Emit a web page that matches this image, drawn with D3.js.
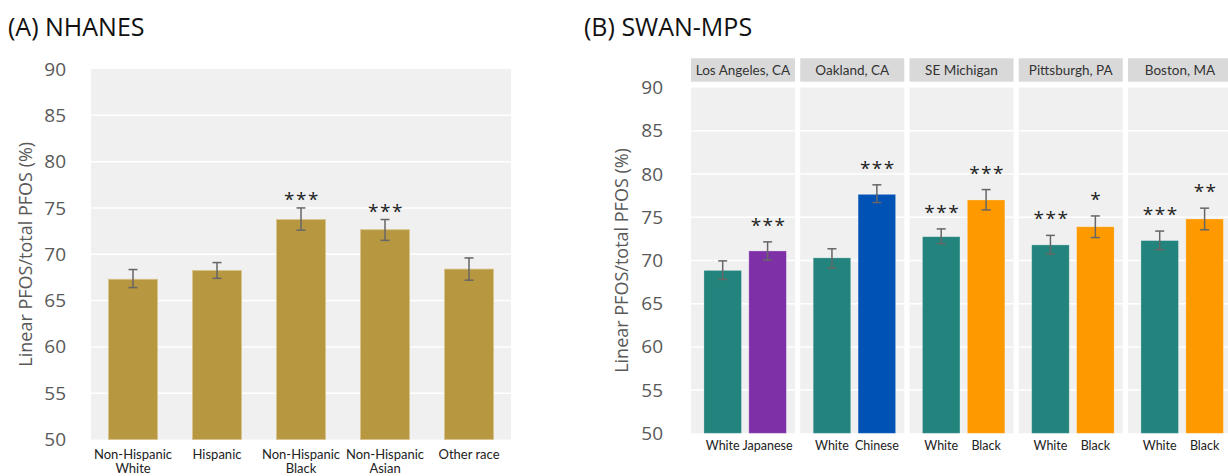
<!DOCTYPE html>
<html>
<head>
<meta charset="utf-8">
<script src="https://cdn.jsdelivr.net/npm/d3@7"></script>
<style>
  body { margin: 0; background: #fff; }
  svg { display: block; font-family: "Open Sans", sans-serif; }
</style>
</head>
<body>
<div class="chart"></div>
<script>
// ---- data ----
const nhanesGroups = [["Non-Hispanic", "White"], ["Hispanic"], ["Non-Hispanic", "Black"], ["Non-Hispanic", "Asian"], ["Other race"]];
const nhanesMeans = [67.3, 68.25, 73.75, 72.65, 68.4];
const nhanesLo = [66.4, 67.4, 72.6, 71.5, 67.2];
const nhanesHi = [68.35, 69.1, 75.0, 73.75, 69.6];
const nhanesSig = ["", "", "***", "***", ""];

const sites = ["Los Angeles, CA", "Oakland, CA", "SE Michigan", "Pittsburgh, PA", "Boston, MA"];
const compareGroups = ["Japanese", "Chinese", "Black", "Black", "Black"];
const whiteMeans = [68.85, 70.3, 72.75, 71.8, 72.3];
const whiteLo = [67.8, 69.15, 71.95, 70.75, 71.25];
const whiteHi = [69.95, 71.35, 73.65, 72.9, 73.4];
const whiteSig = ["", "", "***", "***", "***"];
const otherMeans = [71.1, 77.65, 77.0, 73.9, 74.8];
const otherLo = [70.05, 76.7, 75.85, 72.65, 73.55];
const otherHi = [72.15, 78.75, 78.2, 75.15, 76.05];
const otherSig = ["***", "***", "***", "*", "**"];

const yTicks = [50, 55, 60, 65, 70, 75, 80, 85, 90];
const yTitle = "Linear PFOS/total PFOS (%)";

const groupColor = {White: "#23837d", Japanese: "#7e31a7", Chinese: "#0052b4", Black: "#fe9a00"};

const width = 1228, height = 476;
const svg = d3.select(".chart").append("svg")
    .attr("width", width)
    .attr("height", height);

const textGray = "#595959";

// ---- panel A ----
const yA = d3.scaleLinear().domain([50, 90]).range([439.5, 69]);
const xA = d3.scaleBand()
    .domain(d3.range(nhanesGroups.length))
    .range([91, 511])
    .paddingInner(0.417)
    .paddingOuter(0.2085);

svg.append("text")
    .attr("x", 8).attr("y", 36)
    .attr("font-size", 25).attr("fill", "#111")
    .text("(A) NHANES");

const gA = svg.append("g");
gA.append("rect")
    .attr("x", 91).attr("y", yA(90))
    .attr("width", 420).attr("height", yA(50) - yA(90))
    .attr("fill", "#f0f0f0");

gA.selectAll(".grid").data(yTicks.slice(1, -1)).enter()
    .append("line")
    .attr("x1", 91).attr("x2", 511)
    .attr("y1", d => yA(d)).attr("y2", d => yA(d))
    .attr("stroke", "#fff").attr("stroke-width", 1.5);

const yAxisA = d3.axisLeft(yA).tickValues(yTicks).tickSize(0).tickPadding(0);
gA.append("g")
    .attr("transform", "translate(66,0)")
    .call(yAxisA)
    .call(g => g.select(".domain").remove())
    .selectAll("text")
    .attr("font-size", 19).attr("fill", textGray)
    .attr("font-family", "Open Sans");

svg.append("text")
    .attr("transform", `translate(32,${(yA(50) + yA(90)) / 2}) rotate(-90)`)
    .attr("text-anchor", "middle")
    .attr("font-size", 18).attr("fill", textGray)
    .text(yTitle);

gA.selectAll(".barA").data(nhanesMeans).enter()
    .append("rect")
    .attr("x", (d, i) => xA(i))
    .attr("y", d => yA(d))
    .attr("width", xA.bandwidth())
    .attr("height", d => yA(50) - yA(d))
    .attr("fill", "#b79740")
    .attr("stroke", "#d8c38a").attr("stroke-width", 0.8);

function errBar(g, cx, lo, hi, y) {
    g.append("line")
        .attr("x1", cx).attr("x2", cx)
        .attr("y1", y(lo)).attr("y2", y(hi))
        .attr("stroke", "#666").attr("stroke-width", 1.5);
    [lo, hi].forEach(v => {
        g.append("line")
            .attr("x1", cx - 4.5).attr("x2", cx + 4.5)
            .attr("y1", y(v)).attr("y2", y(v))
            .attr("stroke", "#666").attr("stroke-width", 1.5);
    });
}

function stars(g, cx, yv, s) {
    if (!s) return;
    g.append("text")
        .attr("x", cx).attr("y", yv)
        .attr("text-anchor", "middle")
        .attr("font-size", 19).attr("fill", "#222")
        .attr("letter-spacing", 1.5)
        .text(s);
}

nhanesMeans.forEach((m, i) => {
    const cx = xA(i) + xA.bandwidth() / 2;
    errBar(gA, cx, nhanesLo[i], nhanesHi[i], yA);
    stars(gA, cx + 1, yA(nhanesHi[i]) - 2, nhanesSig[i]);
});

gA.selectAll(".xlabA").data(nhanesGroups).enter()
    .append("text")
    .attr("text-anchor", "middle")
    .attr("font-family", "Lato")
    .attr("font-size", 13).attr("fill", "#222")
    .attr("transform", (d, i) => `translate(${xA(i) + xA.bandwidth() / 2},0)`)
    .each(function(lines) {
        lines.forEach((t, k) => {
            d3.select(this).append("tspan")
                .attr("x", 0).attr("y", 459 + k * 14)
                .text(t);
        });
    });

// ---- panel B ----
const yB = d3.scaleLinear().domain([50, 90]).range([433.3, 87.6]);
const panelX = d3.scaleBand()
    .domain(sites)
    .range([691, 1232])
    .paddingInner(0.048);
const inner = d3.scaleBand()
    .domain([0, 1])
    .range([0, panelX.bandwidth()])
    .paddingInner(0.164)
    .paddingOuter(0.24)
    .align(0.6);

svg.append("text")
    .attr("x", 584).attr("y", 36)
    .attr("font-size", 25).attr("fill", "#111")
    .text("(B) SWAN-MPS");

const yAxisB = d3.axisLeft(yB).tickValues(yTicks).tickSize(0).tickPadding(0);
svg.append("g")
    .attr("transform", "translate(663,0)")
    .call(yAxisB)
    .call(g => g.select(".domain").remove())
    .selectAll("text")
    .attr("font-size", 19).attr("fill", textGray)
    .attr("font-family", "Open Sans");

svg.append("text")
    .attr("transform", `translate(628,${(yB(50) + yB(90)) / 2}) rotate(-90)`)
    .attr("text-anchor", "middle")
    .attr("font-size", 18).attr("fill", textGray)
    .text(yTitle);

sites.forEach((site, i) => {
    const g = svg.append("g").attr("transform", `translate(${panelX(site)},0)`);
    const w = panelX.bandwidth();

    // strip
    g.append("rect")
        .attr("x", 0).attr("y", 58.3)
        .attr("width", w).attr("height", 23.4)
        .attr("fill", "#d9d9d9");
    g.append("text")
        .attr("x", w / 2).attr("y", 75)
        .attr("text-anchor", "middle")
        .attr("font-family", "Lato")
        .attr("font-size", 13.5).attr("fill", "#333")
        .text(site);

    g.append("rect")
        .attr("x", 0).attr("y", yB(90))
        .attr("width", w).attr("height", yB(50) - yB(90))
        .attr("fill", "#f0f0f0");
    g.selectAll(".grid").data(yTicks.slice(1, -1)).enter()
        .append("line")
        .attr("x1", 0).attr("x2", w)
        .attr("y1", d => yB(d)).attr("y2", d => yB(d))
        .attr("stroke", "#fff").attr("stroke-width", 1.5);

    const rows = [
        {grp: "White", m: whiteMeans[i], lo: whiteLo[i], hi: whiteHi[i], sig: whiteSig[i]},
        {grp: compareGroups[i], m: otherMeans[i], lo: otherLo[i], hi: otherHi[i], sig: otherSig[i]}
    ];

    g.selectAll(".barB").data(rows).enter()
        .append("rect")
        .attr("x", (d, k) => inner(k))
        .attr("y", d => yB(d.m))
        .attr("width", inner.bandwidth())
        .attr("height", d => yB(50) - yB(d.m))
        .attr("fill", d => groupColor[d.grp])
        .attr("stroke", "#fff").attr("stroke-opacity", 0.35).attr("stroke-width", 0.8);

    rows.forEach((d, k) => {
        const cx = inner(k) + inner.bandwidth() / 2;
        errBar(g, cx, d.lo, d.hi, yB);
        stars(g, cx + 1, yB(d.hi) - 10, d.sig);
        g.append("text")
            .attr("x", cx).attr("y", 450)
            .attr("text-anchor", "middle")
            .attr("font-family", "Lato")
            .attr("font-size", 12.5).attr("fill", "#222")
            .text(d.grp);
    });
});
</script>
</body>
</html>
